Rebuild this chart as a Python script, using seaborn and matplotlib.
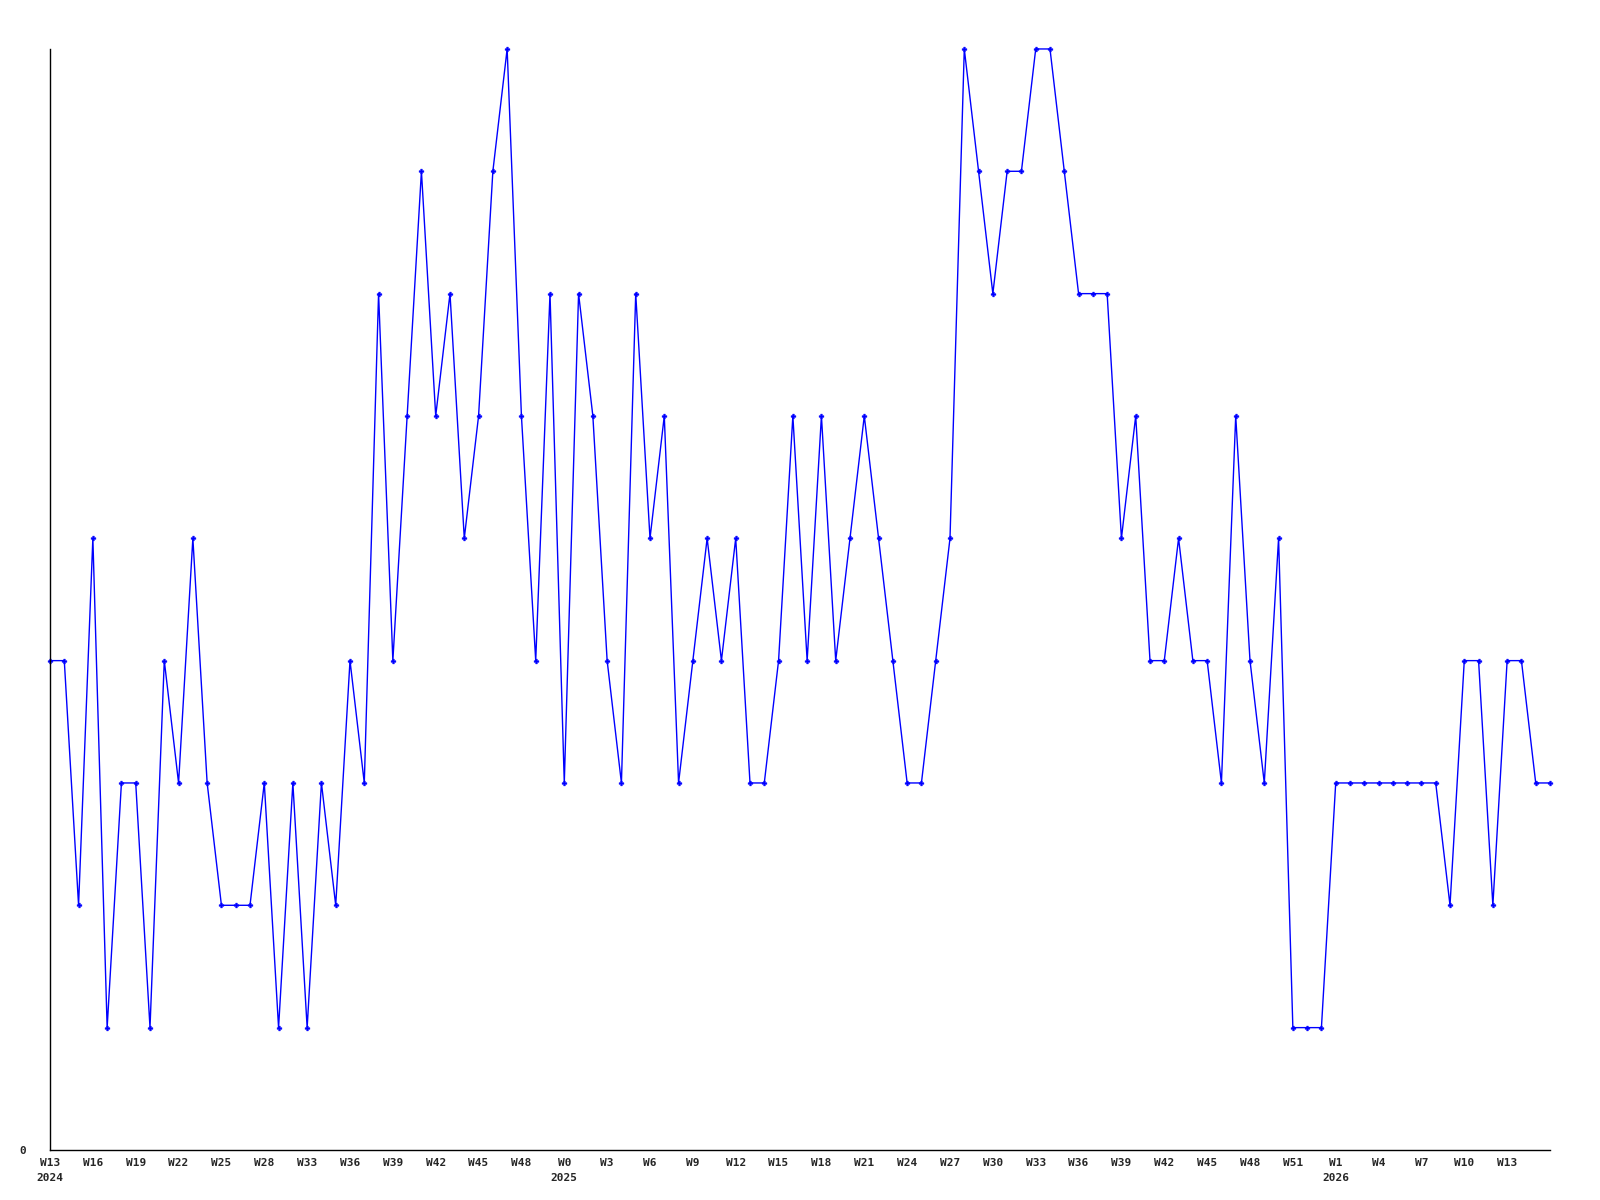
import pandas as pd
import matplotlib
matplotlib.use("Agg")
import matplotlib.pyplot as plt
import matplotlib.transforms as mtransforms
import seaborn as sns

# weekly values, 2024 W13 .. 2026 W15
values = [4, 4, 2, 5, 1, 3, 3, 1, 4, 3,
          5, 3, 2, 2, 2, 3, 1, 3, 1, 3,
          2, 4, 3, 7, 4, 6, 8, 6, 7, 5,
          6, 8, 9, 6, 4, 7, 3, 7, 6, 4,
          3, 7, 5, 6, 3, 4, 5, 4, 5, 3,
          3, 4, 6, 4, 6, 4, 5, 6, 5, 4,
          3, 3, 4, 5, 9, 8, 7, 8, 8, 9,
          9, 8, 7, 7, 7, 5, 6, 4, 4, 5,
          4, 4, 3, 6, 4, 3, 5, 1, 1, 1,
          3, 3, 3, 3, 3, 3, 3, 3, 2, 4,
          4, 2, 4, 4, 3, 3]

tick_labels = ["W13", "W16", "W19", "W22", "W25", "W28", "W33", "W36", "W39", "W42",
               "W45", "W48", "W0", "W3", "W6", "W9", "W12", "W15", "W18", "W21",
               "W24", "W27", "W30", "W33", "W36", "W39", "W42", "W45", "W48", "W51",
               "W1", "W4", "W7", "W10", "W13"]
years = ["2024", "2025", "2026"]
year_ticks = [0, 36, 90]

df = pd.DataFrame({"week": range(len(values)), "count": values})

sns.set_style("white")
plt.rcParams['font.family'] = ['DejaVu Sans Mono']

fig = plt.figure(figsize=(16, 12), dpi=100)
ax = fig.add_axes([0.03125, 0.0417, 0.9375, 0.9175])

sns.lineplot(data=df, x="week", y="count", color="#0000ff", linewidth=1,
             marker="P", markersize=3.5, markeredgewidth=0.3,
             markeredgecolor="#0000ff", ax=ax, clip_on=False)

ax.set_xlim(0, len(values) - 1)
ax.set_ylim(0, 9)
ax.set_xticks(range(0, len(tick_labels) * 3, 3))
ax.set_xticklabels(tick_labels, fontsize=8, fontweight="bold")
ax.set_yticks([0])
ax.set_yticklabels(["0"], fontsize=8, fontweight="bold")
ax.tick_params(axis="x", length=0, pad=6)
ax.tick_params(axis="y", length=0, pad=17)
ax.set_xlabel("")
ax.set_ylabel("")

for sp in ["top", "right"]:
    ax.spines[sp].set_visible(False)
for sp in ["left", "bottom"]:
    ax.spines[sp].set_color("black")
    ax.spines[sp].set_linewidth(1)

trans = mtransforms.blended_transform_factory(ax.transData, ax.transAxes)
for yr, xt in zip(years, year_ticks):
    ax.text(xt, -0.021, yr, transform=trans, ha="center", va="top",
            fontsize=8, fontweight="bold")

fig.savefig("out.png", dpi=100)
